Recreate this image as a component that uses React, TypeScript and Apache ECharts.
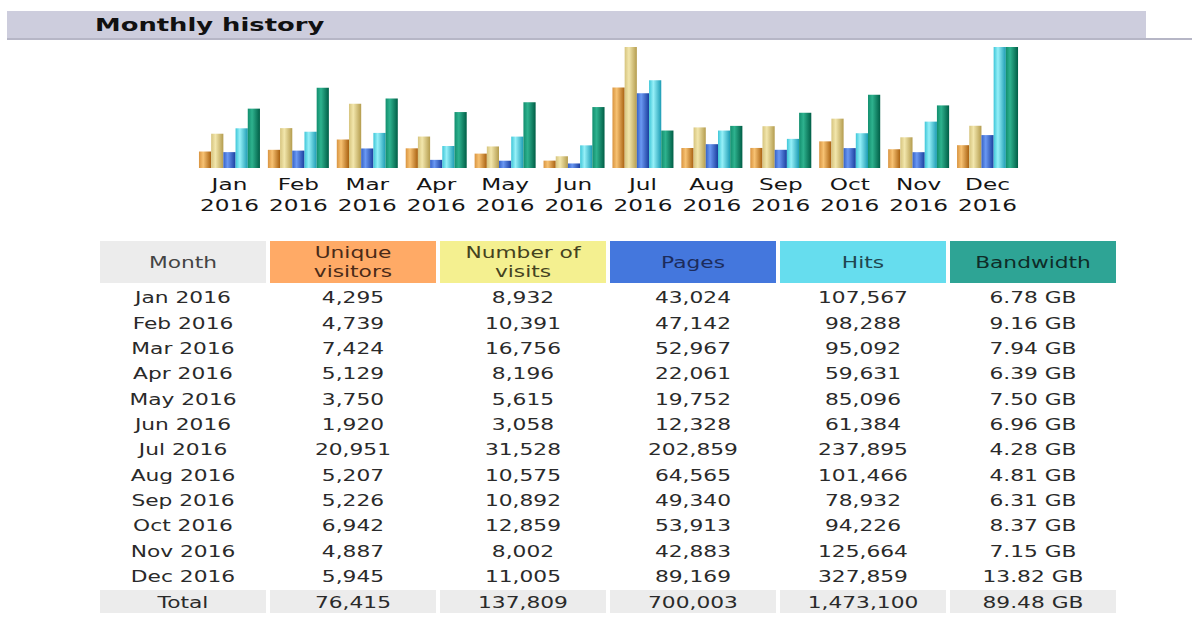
import React, { useEffect, useRef } from 'react';
import * as echarts from 'echarts';

// ---------- data ----------
const title = 'Monthly history';
const year = '2016';
const months = ['Jan', 'Feb', 'Mar', 'Apr', 'May', 'Jun', 'Jul', 'Aug', 'Sep', 'Oct', 'Nov', 'Dec'];
const uniqueVisitors = [4295, 4739, 7424, 5129, 3750, 1920, 20951, 5207, 5226, 6942, 4887, 5945];
const visits = [8932, 10391, 16756, 8196, 5615, 3058, 31528, 10575, 10892, 12859, 8002, 11005];
const pages = [43024, 47142, 52967, 22061, 19752, 12328, 202859, 64565, 49340, 53913, 42883, 89169];
const hits = [107567, 98288, 95092, 59631, 85096, 61384, 237895, 101466, 78932, 94226, 125664, 327859];
const bandwidthGB = [6.78, 9.16, 7.94, 6.39, 7.5, 6.96, 4.28, 4.81, 6.31, 8.37, 7.15, 13.82];
const columnTitles = ['Month', 'Unique\nvisitors', 'Number of\nvisits', 'Pages', 'Hits', 'Bandwidth'];
const totalLabels = ['Total', '76,415', '137,809', '700,003', '1,473,100', '89.48 GB'];

// ---------- layout ----------
const W = 1192;
const H = 634;
const W0 = 822; // drawing width, stretched horizontally to W
const STRETCH = W / W0;
const ux = (x: number) => x / STRETCH;
const FONT = '"DejaVu Sans", Verdana, sans-serif';

const fmt = (n: number) => String(n).replace(/\B(?=(\d{3})+(?!\d))/g, ',');

const grad = (c0: string, c1: string, c2: string) =>
  new echarts.graphic.LinearGradient(0, 0, 1, 0, [
    { offset: 0, color: c0 },
    { offset: 0.35, color: c1 },
    { offset: 1, color: c2 },
  ]);

export default function App() {
  const ref = useRef<HTMLDivElement>(null);

  useEffect(() => {
    if (!ref.current) return;
    const chart = echarts.init(ref.current, undefined, { renderer: 'svg' });

    const seriesDefs = [
      { name: 'Unique visitors', data: uniqueVisitors, axis: 0, color: grad('#D99440', '#F7C273', '#A8600F') },
      { name: 'Number of visits', data: visits, axis: 0, color: grad('#D6C47E', '#F2E6AC', '#B49C4E') },
      { name: 'Pages', data: pages, axis: 1, color: grad('#3562C8', '#6A98F2', '#1A3E9E') },
      { name: 'Hits', data: hits, axis: 1, color: grad('#3EC6D8', '#96F0F8', '#1C9CB4') },
      { name: 'Bandwidth', data: bandwidthGB, axis: 2, color: grad('#128E6E', '#2EB28E', '#005E46') },
    ];

    const graphics: any[] = [];
    // header bar
    graphics.push({ type: 'rect', shape: { x: ux(7), y: 11, width: ux(1146 - 7), height: 27 }, style: { fill: '#CDCDDD' } });
    graphics.push({ type: 'rect', shape: { x: ux(7), y: 38, width: ux(1192 - 7), height: 2 }, style: { fill: '#B6B6C6' } });
    graphics.push({
      type: 'text',
      style: { text: title, x: ux(95), y: 25, font: `bold 17.8px ${FONT}`, fill: '#111', textAlign: 'left', align: 'left', textVerticalAlign: 'middle', verticalAlign: 'middle' },
    });

    // table
    const colLeft = (i: number) => ux(100 + 170 * i);
    const colW = ux(166);
    const colCenter = (i: number) => ux(100 + 170 * i + 83);
    const headerFills = ['#ECECEC', '#FFAA66', '#F4F090', '#4477DD', '#66DDEE', '#2EA495'];
    const headerText = ['#444', '#4A2A18', '#44421E', '#1C2C5C', '#1F4650', '#0E2C28'];
    columnTitles.forEach((t, i) => {
      graphics.push({ type: 'rect', shape: { x: colLeft(i), y: 241, width: colW, height: 42 }, style: { fill: headerFills[i] } });
      graphics.push({
        type: 'text',
        style: { text: t, x: colCenter(i), y: 262.5, font: `15px ${FONT}`, lineHeight: 19, fill: headerText[i], textAlign: 'center', align: 'center', textVerticalAlign: 'middle', verticalAlign: 'middle' },
      });
    });

    const rowY = (r: number) => 298 + 25.36 * r;
    months.forEach((m, r) => {
      const cells = [
        `${m} ${year}`,
        fmt(uniqueVisitors[r]),
        fmt(visits[r]),
        fmt(pages[r]),
        fmt(hits[r]),
        `${bandwidthGB[r].toFixed(2)} GB`,
      ];
      cells.forEach((c, i) => {
        graphics.push({
          type: 'text',
          style: { text: c, x: colCenter(i), y: rowY(r), font: `15px ${FONT}`, fill: '#2a2a2a', textAlign: 'center', align: 'center', textVerticalAlign: 'middle', verticalAlign: 'middle' },
        });
      });
    });

    totalLabels.forEach((c, i) => {
      graphics.push({ type: 'rect', shape: { x: colLeft(i), y: 590, width: colW, height: 23 }, style: { fill: '#ECECEC' } });
      graphics.push({
        type: 'text',
        style: { text: c, x: colCenter(i), y: rowY(12), font: `15px ${FONT}`, fill: '#2a2a2a', textAlign: 'center', align: 'center', textVerticalAlign: 'middle', verticalAlign: 'middle' },
      });
    });

    const gridLeft = ux(195);
    const gridWidth = ux(827);

    chart.setOption({
      animation: false,
      backgroundColor: '#ffffff',
      grid: { left: gridLeft, width: gridWidth, top: 47, height: 121, containLabel: false },
      xAxis: {
        type: 'category',
        data: months.map((m) => `${m}\n${year}`),
        axisLine: { show: false },
        axisTick: { show: false },
        splitLine: { show: false },
        axisLabel: { interval: 0, fontFamily: FONT, fontSize: 16, lineHeight: 20.5, color: '#151515', margin: 7 },
      },
      yAxis: [
        { type: 'value', show: false, min: 0, max: Math.max(...visits), splitLine: { show: false } },
        { type: 'value', show: false, min: 0, max: Math.max(...hits), splitLine: { show: false } },
        { type: 'value', show: false, min: 0, max: Math.max(...bandwidthGB), splitLine: { show: false } },
      ],
      series: seriesDefs.map((s) => ({
        type: 'bar',
        name: s.name,
        data: s.data,
        yAxisIndex: s.axis,
        barWidth: ux(12.2),
        barGap: '0%',
        itemStyle: { color: s.color },
        emphasis: { disabled: true },
      })),
      graphic: graphics,
    });

    return () => chart.dispose();
  }, []);

  return (
    <div
      style={{
        position: 'fixed',
        left: 0,
        top: 0,
        width: W,
        height: H,
        overflow: 'hidden',
        background: '#fff',
      }}
    >
      <div
        ref={ref}
        style={{
          width: W0,
          height: H,
          transform: `scaleX(${STRETCH})`,
          transformOrigin: '0 0',
        }}
      />
    </div>
  );
}
